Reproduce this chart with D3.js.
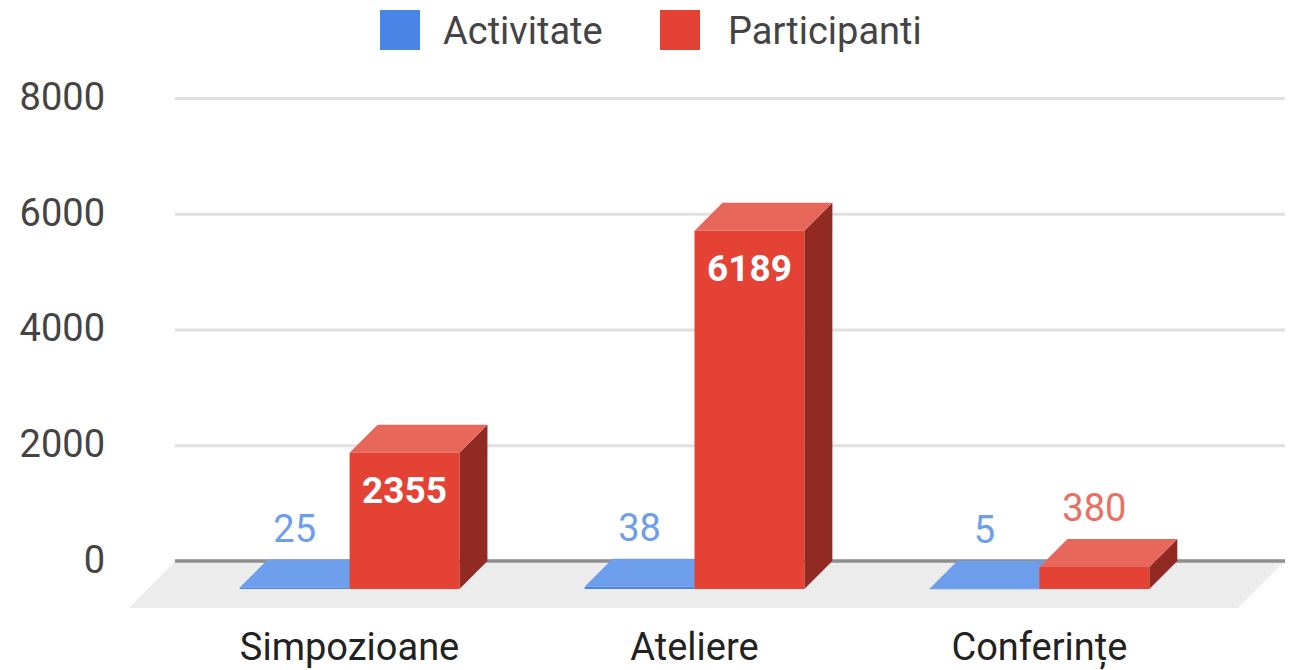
<!DOCTYPE html>
<html>
<head>
<meta charset="utf-8">
<script src="https://cdn.jsdelivr.net/npm/d3@7"></script>
<style>
  body { margin: 0; background: #fff; }
  svg { display: block; font-family: Roboto, Arial, sans-serif; }
</style>
</head>
<body>
<svg width="1298" height="670"></svg>
<script>
const categories = ["Simpozioane", "Ateliere", "Conferințe"];
const seriesNames = ["Activitate", "Participanti"];
const activitate = [25, 38, 5];
const participanti = [2355, 6189, 380];
const yTicks = [0, 2000, 4000, 6000, 8000];

const colors = {
    Activitate: { front: "#4a86e8", top: "#6d9eeb", side: "#2f5fb0", legend: "#4a86e8", label: "#6d9eeb" },
    Participanti: { front: "#e34234", top: "#e8675b", side: "#912a22", legend: "#e34234", label: "#ea6f63" }
};

const svg = d3.select("svg");

// 3d offsets
const depth = 28;       // bar depth (front face sits this far in front of the back wall)
const floorDepth = 47;  // floor depth
const wallLeft = 175, wallRight = 1285;

const yBack = d3.scaleLinear().domain([0, 8000]).range([561, 98]);
const yFront = v => yBack(v) + depth;

const x0 = d3.scaleBand()
    .domain(categories)
    .range([149, 1240])
    .paddingInner(0.363)
    .paddingOuter(0.263);

const x1 = d3.scaleBand()
    .domain(seriesNames)
    .range([0, x0.bandwidth()]);

// gridlines + y labels
const yAxis = svg.append("g")
    .attr("transform", `translate(${wallLeft},0)`)
    .call(d3.axisLeft(yBack).tickValues(yTicks).tickFormat(d3.format("d"))
        .tickSize(-(wallRight - wallLeft)).tickPadding(70));
yAxis.select(".domain").remove();
yAxis.selectAll(".tick line").attr("stroke", "#e0e0e0").attr("stroke-width", 3);
yAxis.selectAll(".tick text")
    .attr("fill", "#444")
    .attr("font-size", 38)
    .attr("dy", "0.3em")
    .attr("font-family", "Roboto, Arial, sans-serif");

// floor
svg.append("polygon")
    .attr("points", [
        [wallLeft, yBack(0)], [wallRight, yBack(0)],
        [wallRight - floorDepth, yBack(0) + floorDepth], [wallLeft - floorDepth + 1, yBack(0) + floorDepth]
    ].map(p => p.join(",")).join(" "))
    .attr("fill", "#ececec");

// zero line
svg.append("line")
    .attr("x1", wallLeft).attr("x2", wallRight)
    .attr("y1", yBack(0)).attr("y2", yBack(0))
    .attr("stroke", "#8e8e8e").attr("stroke-width", 3.5);

// bar data
const bars = [];
categories.forEach((c, i) => {
    bars.push({ cat: c, key: "Activitate", value: activitate[i] });
    bars.push({ cat: c, key: "Participanti", value: participanti[i] });
});

const barG = svg.selectAll(".bar")
    .data(bars)
    .enter().append("g")
    .attr("class", "bar");

barG.each(function(d) {
    const g = d3.select(this);
    const xl = x0(d.cat) + x1(d.key);
    const xr = xl + x1.bandwidth();
    const yt = yFront(d.value);
    const yb = yFront(0);
    const c = colors[d.key];

    g.append("polygon")
        .attr("points", [[xr, yt], [xr + depth, yt - depth], [xr + depth, yb - depth], [xr, yb]].map(p => p.join(",")).join(" "))
        .attr("fill", c.side);
    g.append("polygon")
        .attr("points", [[xl, yt], [xl + depth, yt - depth], [xr + depth, yt - depth], [xr, yt]].map(p => p.join(",")).join(" "))
        .attr("fill", c.top);
    g.append("rect")
        .attr("x", xl).attr("y", yt)
        .attr("width", xr - xl).attr("height", Math.max(yb - yt, 0.5))
        .attr("fill", c.front);
});

// value labels
const inside = d => yFront(0) - yFront(d.value) > 70;
barG.append("text")
    .attr("x", d => x0(d.cat) + x1(d.key) + x1.bandwidth() / 2)
    .attr("y", d => inside(d) ? yFront(d.value) + 50 : yFront(d.value) - 46)
    .attr("text-anchor", "middle")
    .attr("font-size", d => inside(d) ? 37 : 38)
    .attr("font-weight", d => inside(d) ? "bold" : "normal")
    .attr("fill", d => inside(d) ? "#fff" : colors[d.key].label)
    .text(d => d.value);

// category labels
svg.selectAll(".cat-label")
    .data(categories)
    .enter().append("text")
    .attr("class", "cat-label")
    .attr("x", d => x0(d) + x0.bandwidth() / 2)
    .attr("y", 660)
    .attr("text-anchor", "middle")
    .attr("font-size", 38)
    .attr("fill", "#222")
    .text(d => d);

// legend
const legendX = [380, 660];
const legend = svg.selectAll(".legend")
    .data(seriesNames)
    .enter().append("g")
    .attr("class", "legend")
    .attr("transform", (d, i) => `translate(${legendX[i]},10)`);
legend.append("rect")
    .attr("width", 40).attr("height", 40)
    .attr("fill", d => colors[d].legend);
legend.append("text")
    .attr("x", (d, i) => (i === 0 ? 63 : 68))
    .attr("y", 34)
    .attr("font-size", 38)
    .attr("fill", "#444")
    .text(d => d);
</script>
</body>
</html>
